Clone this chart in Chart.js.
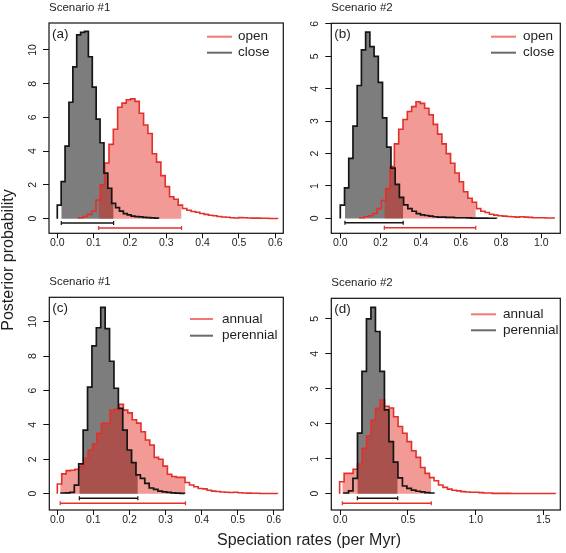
<!DOCTYPE html>
<html>
<head>
<meta charset="utf-8">
<script src="https://cdn.jsdelivr.net/npm/chart.js@4.4.0/dist/chart.umd.min.js"></script>
<style>
  body { margin: 0; background: #fff; }
  #wrap { position: relative; width: 566px; height: 553px; font-family: "Liberation Sans", Arial, sans-serif; color: #1e1e1e; }
  canvas { position: absolute; left: 0; top: 0; }
  #ylab { position: absolute; left: -92px; top: 250px; width: 200px; line-height: 20px; font-size: 16px; text-align: center; transform: rotate(-90deg); }
  #xlab { position: absolute; left: 159px; top: 530px; width: 300px; line-height: 20px; font-size: 16px; text-align: center; }
</style>
</head>
<body>
<div id="wrap">
  <canvas id="pa" width="566" height="553"></canvas>
  <canvas id="pb" width="566" height="553"></canvas>
  <canvas id="pc" width="566" height="553"></canvas>
  <canvas id="pd" width="566" height="553"></canvas>
  <div id="ylab">Posterior probability</div>
  <div id="xlab">Speciation rates (per Myr)</div>
</div>
<script>
// histogram heights, bins = start + i * width
// (a) scenario 1, habitat
const aOpenBins = [0.059, 0.0119];
const aOpen = [0.05, 0.12, 0.25, 0.45, 1.1, 2.0, 3.3, 4.4, 5.3, 6.6, 6.85, 7.05, 7.1, 6.95, 6.25, 5.55, 5.05, 3.85, 3.35, 2.55,
  1.9, 1.3, 1.15, 0.8, 0.6, 0.5, 0.42, 0.38, 0.3, 0.25, 0.2, 0.17, 0.13, 0.1, 0.08, 0.05, 0.04, 0.06, 0.05, 0.04,
  0.03, 0.03, 0.02, 0.02, 0.01, 0.01];
const aCloseBins = [0, 0.0107];
const aClose = [0.8, 2.2, 4.3, 6.9, 9.0, 10.9, 11.05, 11.1, 9.6, 7.8, 5.9, 4.5, 2.7, 1.8, 0.9, 0.65, 0.45, 0.3, 0.22, 0.15,
  0.12, 0.1, 0.08, 0.06, 0.04, 0.03];
const aOpenHpd = [0.114, 0.342];
const aCloseHpd = [0.011, 0.155];

// (b) scenario 2, habitat
const bOpenBins = [0.097, 0.0215];
const bOpen = [0.02, 0.05, 0.08, 0.15, 0.3, 0.55, 0.92, 1.6, 2.3, 2.75, 3.05, 3.3, 3.45, 3.6, 3.55, 3.4, 3.2, 2.9, 2.6, 2.3,
  2.0, 1.7, 1.4, 1.13, 0.82, 0.62, 0.5, 0.3, 0.22, 0.18, 0.13, 0.1, 0.08, 0.07, 0.06, 0.05, 0.04, 0.05, 0.04, 0.03,
  0.02, 0.02, 0.02, 0.01, 0.01];
const bCloseBins = [0, 0.021];
const bClose = [0.41, 0.94, 1.85, 2.85, 4.1, 5.2, 5.75, 5.3, 5.0, 4.2, 3.1, 2.2, 1.55, 1.05, 0.65, 0.42, 0.3, 0.22, 0.15, 0.11,
  0.09, 0.07, 0.05, 0.04, 0.04, 0.03, 0.03, 0.02, 0.02, 0.02, 0.015, 0.01, 0.01, 0.01, 0.01, 0.005, 0.005];
const bOpenHpd = [0.219, 0.674];
const bCloseHpd = [0.023, 0.313];

// (c) scenario 1, life cycle
const cAnnualBins = [0, 0.0122];
const cAnnual = [0.56, 1.15, 1.34, 1.36, 1.42, 1.57, 2.06, 2.54, 2.9, 3.51, 4.09, 4.09, 4.86, 4.9, 5.2, 4.86, 4.7, 4.3, 4.1, 3.6,
  3.12, 2.83, 2.11, 2.0, 1.6, 1.13, 1.0, 0.95, 0.95, 0.65, 0.5, 0.4, 0.3, 0.28, 0.2, 0.15, 0.13, 0.1, 0.08, 0.07,
  0.08, 0.05, 0.04, 0.03, 0.02, 0.02, 0.01, 0.01, 0.01, 0.01];
const cPerennialBins = [0.0105, 0.0122];
const cPerennial = [0.04, 0.05, 0.08, 0.5, 1.73, 3.7, 6.2, 8.6, 9.65, 10.83, 9.6, 7.7, 6.13, 4.96, 3.7, 2.54, 1.81, 1.09, 0.89, 0.6,
  0.33, 0.25, 0.15, 0.1, 0.07, 0.05, 0.03, 0.02];
const cAnnualHpd = [0.008, 0.355];
const cPerennialHpd = [0.061, 0.223];

// (d) scenario 2, life cycle
const dAnnualBins = [-0.005, 0.0332];
const dAnnual = [0.34, 0.58, 0.58, 0.7, 0.85, 1.3, 1.65, 2.1, 2.44, 2.68, 2.5, 2.45, 2.2, 1.92, 1.73, 1.49, 1.23, 1.04, 0.75, 0.58,
  0.46, 0.37, 0.25, 0.18, 0.13, 0.1, 0.08, 0.06, 0.05, 0.04, 0.04, 0.03, 0.02, 0.02, 0.01, 0.01, 0.01, 0.01, 0.005, 0.005,
  0.005, 0.005, 0.005, 0.005, 0.005, 0.005, 0.005, 0.005];
const dPerennialBins = [0.0272, 0.0332];
const dPerennial = [0.02, 0.08, 0.44, 1.73, 3.5, 5.0, 5.33, 4.64, 3.5, 2.4, 1.49, 0.9, 0.45, 0.22, 0.15, 0.1, 0.07, 0.05, 0.03, 0.02];
const dAnnualHpd = [0.015, 0.672];
const dPerennialHpd = [0.126, 0.424];

const habitatNames = ['open', 'close'];
const cycleNames = ['annual', 'perennial'];
const xTicks1 = [0, 0.1, 0.2, 0.3, 0.4, 0.5, 0.6];
const xTicksB = [0, 0.2, 0.4, 0.6, 0.8, 1.0];
const xTicksD = [0, 0.5, 1.0, 1.5];
const yTicks10 = [0, 2, 4, 6, 8, 10];
const yTicksB = [0, 1, 2, 3, 4, 5, 6];
const yTicksD = [0, 1, 2, 3, 4, 5];

const FONT = '"Liberation Sans", Arial, sans-serif';
Chart.defaults.font.family = FONT;
Chart.defaults.color = '#222';

const redLine = '#e3302a', blackLine = '#151515';
const redFill = 'rgba(226,24,14,0.44)', grayFill = '#7d7d7d';
const xAxisH = 20, yAxisW = 30;

// outline of a histogram as a step line
function histLine(bins, h) {
  const [s, w] = bins;
  const pts = [{ x: s, y: 0 }];
  h.forEach((v, i) => pts.push({ x: s + i * w, y: v }));
  pts.push({ x: s + h.length * w, y: h[h.length - 1] });
  pts.push({ x: s + h.length * w, y: 0 });
  return pts;
}

// the part of the histogram inside the credible interval
function histFill(bins, h, hpd) {
  const [s, w] = bins;
  const at = x => h[Math.min(h.length - 1, Math.max(0, Math.floor((x - s) / w)))];
  const pts = [{ x: hpd[0], y: at(hpd[0]) }];
  for (let i = 1; i < h.length; i++) {
    const e = s + i * w;
    if (e > hpd[0] && e < hpd[1]) pts.push({ x: e, y: h[i] });
  }
  pts.push({ x: hpd[1], y: at(hpd[1] - 1e-9) });
  return pts;
}

const panels = [
  { id: 'pa', title: 'Scenario #1', tag: '(a)', box: [49, 23, 283.3, 233.3], x: [-0.0228, 0.622], y: [-0.87, 11.6],
    xTicks: xTicks1, yTicks: yTicks10, yPad: 4.5, levels: [-0.26, -0.56], names: habitatNames,
    legend: [207, 232, 238, 36.7, 52.7],
    red: [aOpenBins, aOpen, aOpenHpd], gray: [aCloseBins, aClose, aCloseHpd] },
  { id: 'pb', title: 'Scenario #2', tag: '(b)', box: [331.3, 23.3, 560.3, 233.3], x: [-0.0448, 1.0945], y: [-0.46, 6.02],
    xTicks: xTicksB, yTicks: yTicksB, yPad: 7.2, levels: [-0.135, -0.29], names: habitatNames,
    legend: [491, 516, 523, 36.7, 52.7],
    red: [bOpenBins, bOpen, bOpenHpd], gray: [bCloseBins, bClose, bCloseHpd] },
  { id: 'pc', title: 'Scenario #1', tag: '(c)', box: [49.3, 297.3, 283.3, 510], x: [-0.0222, 0.626], y: [-0.95, 11.42],
    xTicks: xTicks1, yTicks: yTicks10, yPad: 4.5, levels: [-0.27, -0.56], names: cycleNames,
    legend: [190, 213, 222, 319, 335.7],
    red: [cAnnualBins, cAnnual, cAnnualHpd], gray: [cPerennialBins, cPerennial, cPerennialHpd] },
  { id: 'pd', title: 'Scenario #2', tag: '(d)', box: [331.3, 298.3, 560.3, 510], x: [-0.0665, 1.625], y: [-0.467, 5.59],
    xTicks: xTicksD, yTicks: yTicksD, yPad: 7.2, levels: [-0.13, -0.275], names: cycleNames,
    legend: [471, 496, 503, 314.3, 330.3],
    red: [dAnnualBins, dAnnual, dAnnualHpd], gray: [dPerennialBins, dPerennial, dPerennialHpd] }
];

// frame, titles, panel tags and legend
function decor(p) {
  return {
    id: 'decor',
    afterDraw(chart) {
      const { ctx, chartArea: a } = chart;
      ctx.save();
      ctx.strokeStyle = '#111';
      ctx.lineWidth = 1.2;
      ctx.strokeRect(a.left, a.top, a.right - a.left, a.bottom - a.top);
      ctx.fillStyle = '#1e1e1e';
      ctx.font = '11.5px ' + FONT;
      ctx.textBaseline = 'alphabetic';
      ctx.fillText(p.title, a.left, a.top - 12);
      ctx.font = '13.5px ' + FONT;
      ctx.textBaseline = 'middle';
      ctx.fillText(p.tag, a.left + 3, a.top + 11);
      const [x0, x1, tx, y0, y1] = p.legend;
      [y0, y1].forEach((y, i) => {
        ctx.strokeStyle = i ? '#6a6a6a' : '#ee7a72';
        ctx.lineWidth = 2;
        ctx.beginPath();
        ctx.moveTo(x0, y);
        ctx.lineTo(x1, y);
        ctx.stroke();
        ctx.fillText(p.names[i], tx, y);
      });
      ctx.restore();
    }
  };
}

function bar(hpd, level, color, order) {
  return {
    data: [{ x: hpd[0], y: level }, { x: hpd[1], y: level }],
    borderColor: color, borderWidth: 1.4,
    pointStyle: 'line', pointRotation: 90, pointRadius: 2,
    pointBorderColor: color, pointBorderWidth: 1.2, order
  };
}

panels.forEach(p => {
  const [L, T, R, B] = p.box;
  const [rBins, rH, rHpd] = p.red;
  const [gBins, gH, gHpd] = p.gray;
  new Chart(document.getElementById(p.id), {
    type: 'line',
    data: {
      datasets: [
        bar(gHpd, p.levels[0], blackLine, 1),
        bar(rHpd, p.levels[1], redLine, 2),
        { data: histLine(gBins, gH), stepped: 'before', borderColor: blackLine, borderWidth: 1.7, pointRadius: 0, order: 3 },
        { data: histLine(rBins, rH), stepped: 'before', borderColor: redLine, borderWidth: 1.6, pointRadius: 0, order: 4 },
        { data: histFill(rBins, rH, rHpd), stepped: 'before', borderColor: 'rgba(0,0,0,0)', borderWidth: 1,
          backgroundColor: redFill, fill: 'origin', pointRadius: 0, order: 5 },
        { data: histFill(gBins, gH, gHpd), stepped: 'before', borderColor: 'rgba(0,0,0,0)', borderWidth: 1,
          backgroundColor: grayFill, fill: 'origin', pointRadius: 0, order: 6 }
      ]
    },
    options: {
      responsive: false,
      animation: false,
      events: [],
      layout: { padding: { left: L - yAxisW, top: T, right: 566 - R, bottom: 553 - B - xAxisH } },
      plugins: { legend: { display: false }, tooltip: { enabled: false } },
      scales: {
        x: {
          type: 'linear', min: p.x[0], max: p.x[1],
          afterBuildTicks: s => { s.ticks = p.xTicks.map(v => ({ value: v })); },
          afterFit: s => { s.height = xAxisH; },
          grid: { drawOnChartArea: false, tickLength: 5, tickColor: '#111', tickWidth: 1 },
          border: { display: false },
          ticks: { padding: -1, autoSkip: false, maxRotation: 0, font: { size: 10.5 }, color: '#222',
            callback: v => v.toFixed(1) }
        },
        y: {
          type: 'linear', min: p.y[0], max: p.y[1],
          afterBuildTicks: s => { s.ticks = p.yTicks.map(v => ({ value: v })); },
          afterFit: s => { s.width = yAxisW; },
          grid: { drawOnChartArea: false, tickLength: 6, tickColor: '#111', tickWidth: 1 },
          border: { display: false },
          ticks: { padding: p.yPad, autoSkip: false, minRotation: 90, maxRotation: 90, crossAlign: 'center',
            font: { size: 10.5 }, color: '#222', callback: v => String(v) }
        }
      }
    },
    plugins: [decor(p)]
  });
});
</script>
</body>
</html>
